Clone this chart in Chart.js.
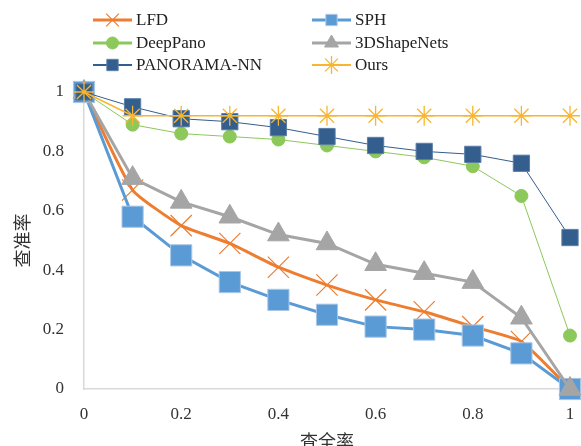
<!DOCTYPE html>
<html>
<head>
<meta charset="utf-8">
<script src="https://cdn.jsdelivr.net/npm/chart.js@4.4.0/dist/chart.umd.min.js"></script>
<style>
  html, body { margin: 0; padding: 0; background: #fff; overflow: hidden; }
  canvas { display: block; }
</style>
</head>
<body>
<canvas id="prChart" width="581" height="446"></canvas>
<script>
// recall on x, precision on y
const recall = [0, 0.1, 0.2, 0.3, 0.4, 0.5, 0.6, 0.7, 0.8, 0.9, 1];
const lfd = [1, 0.67, 0.55, 0.49, 0.41, 0.35, 0.30, 0.26, 0.21, 0.16, 0];
const sph = [1, 0.58, 0.45, 0.36, 0.30, 0.25, 0.21, 0.20, 0.18, 0.12, 0];
const deepPano = [1, 0.89, 0.86, 0.85, 0.84, 0.82, 0.80, 0.78, 0.75, 0.65, 0.18];
const shapeNets = [1, 0.71, 0.63, 0.58, 0.52, 0.49, 0.42, 0.39, 0.36, 0.24, 0];
const panoramaNN = [1, 0.95, 0.91, 0.90, 0.88, 0.85, 0.82, 0.80, 0.79, 0.76, 0.51];
const ours = [1, 0.92, 0.92, 0.92, 0.92, 0.92, 0.92, 0.92, 0.92, 0.92, 0.92];
const axisTicks = [0, 0.2, 0.4, 0.6, 0.8, 1];

function toPoints(vals) {
    return vals.map(function(v, i) { return { x: recall[i], y: v }; });
}

const serif = '"Liberation Serif", "Times New Roman", serif';
const cjk = '"Noto Sans CJK SC", sans-serif';

// legend drawn on canvas in a fixed 2-column grid
const gridLegend = {
    id: 'gridLegend',
    afterDraw: function(chart) {
        const ctx = chart.ctx;
        const cols = [{ x0: 93, x1: 132, tx: 136 }, { x0: 312, x1: 351, tx: 355 }];
        const rows = [20, 43, 65];
        chart.data.datasets.forEach(function(ds, i) {
            const c = cols[i % 2];
            const y = rows[Math.floor(i / 2)];
            ctx.save();
            ctx.strokeStyle = ds.borderColor;
            ctx.lineWidth = ds.legendLine;
            ctx.beginPath();
            ctx.moveTo(c.x0, y);
            ctx.lineTo(c.x1, y);
            ctx.stroke();
            ctx.fillStyle = ds.pointBackgroundColor;
            ctx.strokeStyle = ds.pointBorderColor;
            ctx.lineWidth = ds.pointBorderWidth;
            Chart.helpers.drawPoint(ctx, {
                pointStyle: ds.pointStyle,
                radius: ds.legendRadius,
                rotation: 0,
                borderWidth: ds.pointBorderWidth
            }, (c.x0 + c.x1) / 2, y);
            ctx.fillStyle = '#222';
            ctx.font = '17px ' + serif;
            ctx.textBaseline = 'middle';
            ctx.fillText(ds.label, c.tx, y + 1);
            ctx.restore();
        });
    }
};

const ctx = document.getElementById('prChart');
new Chart(ctx, {
    type: 'line',
    data: {
        datasets: [
            {
                label: 'LFD', data: toPoints(lfd), order: 6,
                borderColor: '#ED7D31', borderWidth: 3, tension: 0.15,
                pointStyle: 'crossRot', pointRadius: 15, pointBorderColor: '#ED7D31',
                pointBackgroundColor: '#ED7D31', pointBorderWidth: 1.2,
                legendLine: 3, legendRadius: 9
            },
            {
                label: 'SPH', data: toPoints(sph), order: 5,
                borderColor: '#5B9BD5', borderWidth: 3,
                pointStyle: 'rect', pointRadius: 15, pointBorderColor: '#A9C8E8',
                pointBackgroundColor: '#5B9BD5', pointBorderWidth: 1,
                legendLine: 3, legendRadius: 8
            },
            {
                label: 'DeepPano', data: toPoints(deepPano), order: 4,
                borderColor: '#8CC85A', borderWidth: 1,
                pointStyle: 'circle', pointRadius: 6.5, pointBorderColor: '#8CC85A',
                pointBackgroundColor: '#8CC85A', pointBorderWidth: 1,
                legendLine: 3, legendRadius: 6
            },
            {
                label: '3DShapeNets', data: toPoints(shapeNets), order: 3,
                borderColor: '#A5A5A5', borderWidth: 3,
                pointStyle: 'triangle', pointRadius: 12.5, pointBorderColor: '#A5A5A5',
                pointBackgroundColor: '#A5A5A5', pointBorderWidth: 1,
                legendLine: 3, legendRadius: 8
            },
            {
                label: 'PANORAMA-NN', data: toPoints(panoramaNN), order: 2,
                borderColor: '#335E8D', borderWidth: 1,
                pointStyle: 'rect', pointRadius: 11.5, pointBorderColor: '#5B7FA8',
                pointBackgroundColor: '#335E8D', pointBorderWidth: 1,
                legendLine: 2, legendRadius: 8
            },
            {
                label: 'Ours', data: toPoints(ours), order: 1,
                borderColor: '#F8B530', borderWidth: 1.5,
                pointStyle: 'star', pointRadius: 10, pointBorderColor: '#F8B530',
                pointBackgroundColor: '#F8B530', pointBorderWidth: 1.3,
                legendLine: 2, legendRadius: 9
            }
        ]
    },
    options: {
        responsive: false,
        animation: false,
        clip: false,
        layout: { autoPadding: false, padding: { top: 92, right: 11, left: 0, bottom: 0 } },
        plugins: {
            legend: { display: false },
            tooltip: { enabled: false }
        },
        scales: {
            x: {
                type: 'linear', min: 0, max: 1,
                afterFit: function(s) {
                    s.height = 57;
                    s.paddingLeft = 0;
                    s.paddingRight = 0;
                },
                afterBuildTicks: function(s) {
                    s.ticks = axisTicks.map(function(v) { return { value: v }; });
                },
                grid: { display: false, drawTicks: false },
                border: { display: true, color: '#D9D9D9', width: 1.5 },
                ticks: {
                    padding: 15, color: '#333',
                    font: { family: serif, size: 17 },
                    callback: function(v) { return String(v); }
                },
                title: {
                    display: true, text: '查全率', color: '#333',
                    font: { family: cjk, size: 18 },
                    padding: { top: 0, bottom: -6 }
                }
            },
            y: {
                type: 'linear', min: 0, max: 1,
                afterFit: function(s) {
                    s.width = 84;
                    s.paddingTop = 0;
                    s.paddingBottom = 0;
                },
                afterBuildTicks: function(s) {
                    s.ticks = axisTicks.map(function(v) { return { value: v }; });
                },
                grid: { display: false, drawTicks: false },
                border: { display: true, color: '#D9D9D9', width: 1.5 },
                ticks: {
                    padding: 20, color: '#333',
                    font: { family: serif, size: 17 },
                    callback: function(v) { return String(v); }
                },
                title: {
                    display: true, text: '查准率', color: '#333',
                    font: { family: cjk, size: 18 },
                    padding: { top: 11, bottom: 0 }
                }
            }
        }
    },
    plugins: [gridLegend]
});
</script>
</body>
</html>
